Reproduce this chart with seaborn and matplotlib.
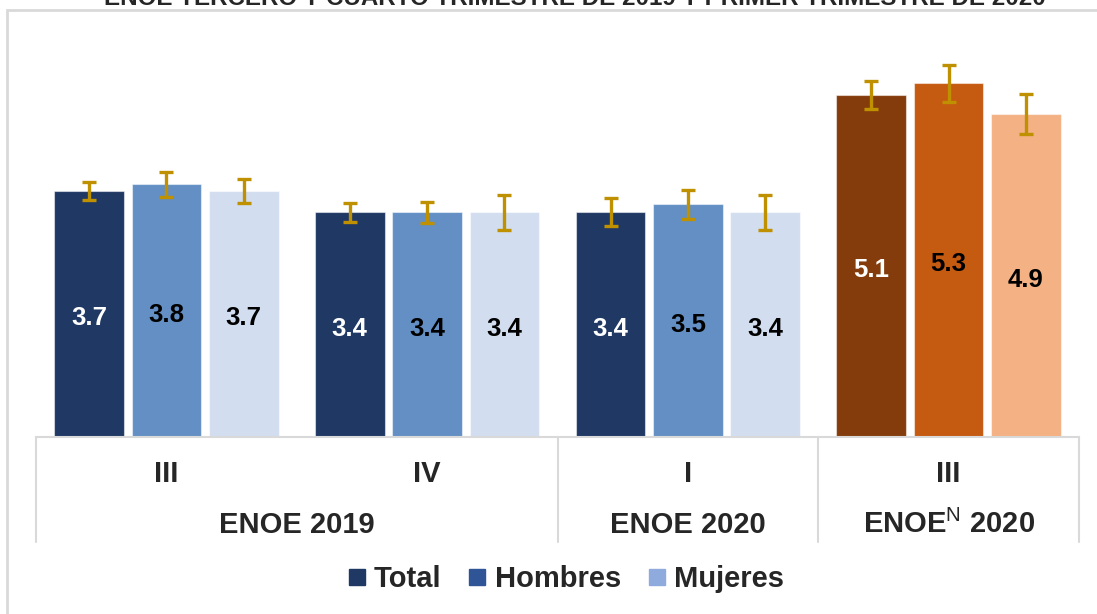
"""Tasa de desocupación por sexo, ENOE 2019-2020."""

import matplotlib

matplotlib.use("Agg")
import matplotlib.pyplot as plt
import matplotlib.patches as mpatches
import matplotlib.transforms as mtransforms
from matplotlib.lines import Line2D
import pandas as pd
import seaborn as sns

# --- data -----------------------------------------------------------------
group_keys = ["2019-III", "2019-IV", "2020-I", "2020N-III"]
quarters = ["III", "IV", "I", "III"]
surveys = ["ENOE 2019", "ENOE 2020", r"ENOE$^{\mathrm{N}}$ 2020"]
survey_of_group = [0, 0, 1, 2]
series = ["Total", "Hombres", "Mujeres"]

total = [3.70, 3.38, 3.38, 5.14]
hombres = [3.80, 3.38, 3.50, 5.32]
mujeres = [3.70, 3.38, 3.38, 4.86]

err_total = [0.14, 0.14, 0.21, 0.21]
err_hombres = [0.19, 0.16, 0.22, 0.28]
err_mujeres = [0.18, 0.26, 0.26, 0.30]

title = "ENOE TERCERO Y CUARTO TRIMESTRE DE 2019 Y PRIMER TRIMESTRE DE 2020"

blues = ["#203864", "#638FC4", "#D2DEEF"]
oranges = ["#843C0C", "#C55A11", "#F4B183"]
legend_colors = ["#203864", "#2F5597", "#8FAADC"]
err_color = "#BF9000"
line_color = "#D9D9D9"

values = [total, hombres, mujeres]
errors = [err_total, err_hombres, err_mujeres]

df = pd.DataFrame(
    {
        "grupo": group_keys * len(series),
        "serie": [s for s in series for _ in group_keys],
        "valor": [v for vals in values for v in vals],
    }
)

# --- style ----------------------------------------------------------------
sns.set_style("white")
plt.rcParams["font.family"] = ["Liberation Sans", "DejaVu Sans"]
plt.rcParams["mathtext.fontset"] = "custom"
plt.rcParams["mathtext.rm"] = "Liberation Sans"

fig = plt.figure(figsize=(10.97, 6.14), dpi=100)
ax = fig.add_axes([36 / 1097, 177 / 614, 1043 / 1097, 399 / 614])

sns.barplot(
    data=df,
    x="grupo",
    y="valor",
    hue="serie",
    order=group_keys,
    hue_order=series,
    palette=blues,
    saturation=1,
    width=0.89,
    gap=0.1,
    errorbar=None,
    legend=False,
    ax=ax,
)

# last group uses the orange palette, then error bars and value labels
bar_containers = list(ax.containers)
for i, container in enumerate(bar_containers):
    container[len(group_keys) - 1].set_facecolor(oranges[i])
    for bar in container:
        bar.set_edgecolor((1, 1, 1, 0.5))
        bar.set_linewidth(0.8)

    xs = [bar.get_x() + bar.get_width() / 2 for bar in container]
    ys = [bar.get_height() for bar in container]
    ax.errorbar(
        xs, ys, yerr=errors[i], fmt="none", ecolor=err_color,
        elinewidth=2.4, capsize=4.8, capthick=2.4, zorder=4,
    )

    texts = ax.bar_label(
        container,
        labels=[f"{v:.1f}" for v in values[i]],
        label_type="center",
        fontsize=18.5,
        fontweight="bold",
    )
    for t in texts:
        t.set_color("white" if i == 0 else "black")
        t.set_position((0, -3))

ax.set_xlim(-0.5, len(group_keys) - 0.5)
ax.set_ylim(0, 6)
ax.set_xticks([])
ax.set_yticks([])
ax.set_xlabel("")
ax.set_ylabel("")
for side in ["top", "left", "right"]:
    ax.spines[side].set_visible(False)
ax.spines["bottom"].set_color(line_color)
ax.spines["bottom"].set_linewidth(1.5)

# two-level category axis
trans = mtransforms.blended_transform_factory(ax.transData, fig.transFigure)
for i, q in enumerate(quarters):
    ax.text(i, 1 - 482 / 614, q, transform=trans, ha="center", va="baseline",
            fontsize=21, fontweight="bold")

for s, name in enumerate(surveys):
    idx = [i for i, g in enumerate(survey_of_group) if g == s]
    ax.text(sum(idx) / len(idx), 1 - 533 / 614, name, transform=trans,
            ha="center", va="baseline", fontsize=21, fontweight="bold")

bounds = [-0.5]
bounds += [i + 0.5 for i in range(len(group_keys) - 1)
           if survey_of_group[i] != survey_of_group[i + 1]]
bounds += [len(group_keys) - 0.5]
for b in bounds:
    ax.add_line(Line2D([b, b], [1 - 437 / 614, 1 - 542 / 614], transform=trans,
                       color=line_color, lw=1.5, clip_on=False))

# chart frame and (cut off) title
fig.add_artist(mpatches.Rectangle(
    (7 / 1097, -0.05), 1.1, 1.05 - 10 / 614, transform=fig.transFigure,
    fill=False, edgecolor=line_color, lw=2,
))
fig.text(575 / 1097, 1 - 5 / 614, title, ha="center", va="baseline",
         fontsize=17.4, fontweight="bold")

handles = [
    Line2D([], [], marker="s", linestyle="none", markersize=11,
           markerfacecolor=c, markeredgecolor=c)
    for c in legend_colors
]
fig.legend(
    handles, series, loc="center", bbox_to_anchor=(563 / 1097, 1 - 579 / 614),
    ncol=3, frameon=False, handletextpad=0.1, columnspacing=0.72,
    handlelength=1.0, prop={"size": 21, "weight": "bold"},
)

fig.savefig("out.png", dpi=100)
plt.close(fig)
